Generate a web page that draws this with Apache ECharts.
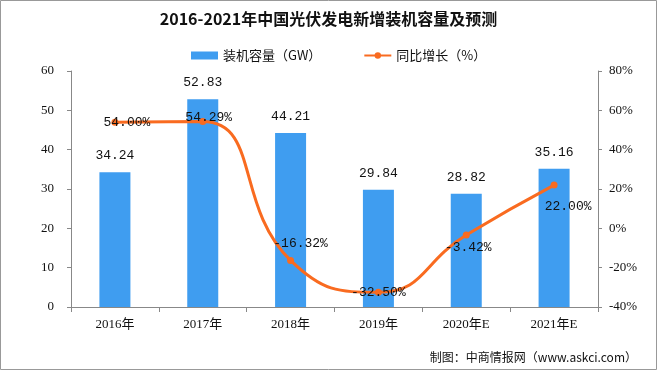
<!DOCTYPE html>
<html><head><meta charset="utf-8">
<script src="https://cdn.jsdelivr.net/npm/echarts@6/dist/echarts.min.js"></script>
<style>html,body{margin:0;padding:0;background:#fff}#c{width:657px;height:371px}</style>
</head><body><div id="c"></div>
<script>
const categories = ['2016年','2017年','2018年','2019年','2020年E','2021年E'];
const capacity = [34.24, 52.83, 44.21, 29.84, 28.82, 35.16];
const growth = [54.00, 54.29, -16.32, -32.50, -3.42, 22.00];
const leftTicks = [0, 60, 10];
const rightTicks = [-40, 80, 20];

const mono = '"Liberation Mono", "Noto Sans CJK SC", monospace';
const cjk = '"Liberation Serif", "Noto Sans CJK SC", serif';
const lineLabelOffsets = [[12,0],[6,-4],[10,-17],[0,0],[2,13],[14,21]];

const chart = echarts.init(document.getElementById('c'));
chart.setOption({
  animation: false,
  backgroundColor: '#fff',
  title: {
    text: '2016-2021年中国光伏发电新增装机容量及预测',
    left: 'center', top: 6,
    textStyle: { fontSize: 16, fontWeight: 'bold', color: '#111', fontFamily: '"Noto Sans CJK SC", serif' }
  },
  legend: {
    top: 44, left: 186, itemGap: 42, itemWidth: 27, itemHeight: 8,
    textStyle: { fontSize: 13, color: '#111', fontFamily: '"Noto Sans CJK SC"' },
    data: [
      { name: '装机容量（GW）', icon: 'rect' },
      { name: '同比增长（%）' }
    ]
  },
  grid: { left: 71, right: 59, top: 71, bottom: 64 },
  xAxis: {
    type: 'category', data: categories,
    axisLine: { lineStyle: { color: '#888' } },
    axisTick: { show: true, length: 5, lineStyle: { color: '#888' } },
    axisLabel: { color: '#111', fontSize: 13, margin: 11, fontFamily: cjk }
  },
  yAxis: [
    {
      type: 'value', min: leftTicks[0], max: leftTicks[1], interval: leftTicks[2],
      axisLine: { show: true, lineStyle: { color: '#888' } },
      axisTick: { show: true, length: 4, lineStyle: { color: '#888' } },
      splitLine: { show: false },
      axisLabel: { color: '#111', fontSize: 13, margin: 17, fontFamily: cjk }
    },
    {
      type: 'value', min: rightTicks[0], max: rightTicks[1], interval: rightTicks[2],
      axisLine: { show: true, lineStyle: { color: '#888' } },
      axisTick: { show: true, length: 4, lineStyle: { color: '#888' } },
      splitLine: { show: false },
      axisLabel: { color: '#111', fontSize: 13, margin: 11, fontFamily: cjk, formatter: '{value}%' }
    }
  ],
  series: [
    {
      name: '装机容量（GW）', type: 'bar', data: capacity, barWidth: 31,
      itemStyle: { color: '#3F9DF0' },
      label: { show: true, position: 'top', distance: 10, color: '#111', fontSize: 13, fontFamily: mono,
               formatter: p => p.value.toFixed(2) }
    },
    {
      name: '同比增长（%）', type: 'line', yAxisIndex: 1, smooth: 0.5,
      data: growth.map((v, i) => ({
        value: v,
        label: { offset: lineLabelOffsets[i] }
      })),
      symbol: 'circle', symbolSize: 7,
      lineStyle: { color: '#F96B20', width: 3 },
      itemStyle: { color: '#F96B20' },
      label: { show: true, position: 'inside', color: '#111', fontSize: 13, fontFamily: mono,
               formatter: p => p.value.toFixed(2) + '%' },
      z: 5
    }
  ],
  graphic: [
    { type: 'rect', shape: { x: 0.5, y: 0.5, width: 656, height: 369 }, style: { fill: 'none', stroke: '#999', lineWidth: 1 }, silent: true },
    { type: 'text', right: 20, bottom: 8, style: { text: '制图：中商情报网（www.askci.com）', fontSize: 12, fill: '#111', fontFamily: '"Noto Sans CJK SC"' } }
  ]
});
</script></body></html>
